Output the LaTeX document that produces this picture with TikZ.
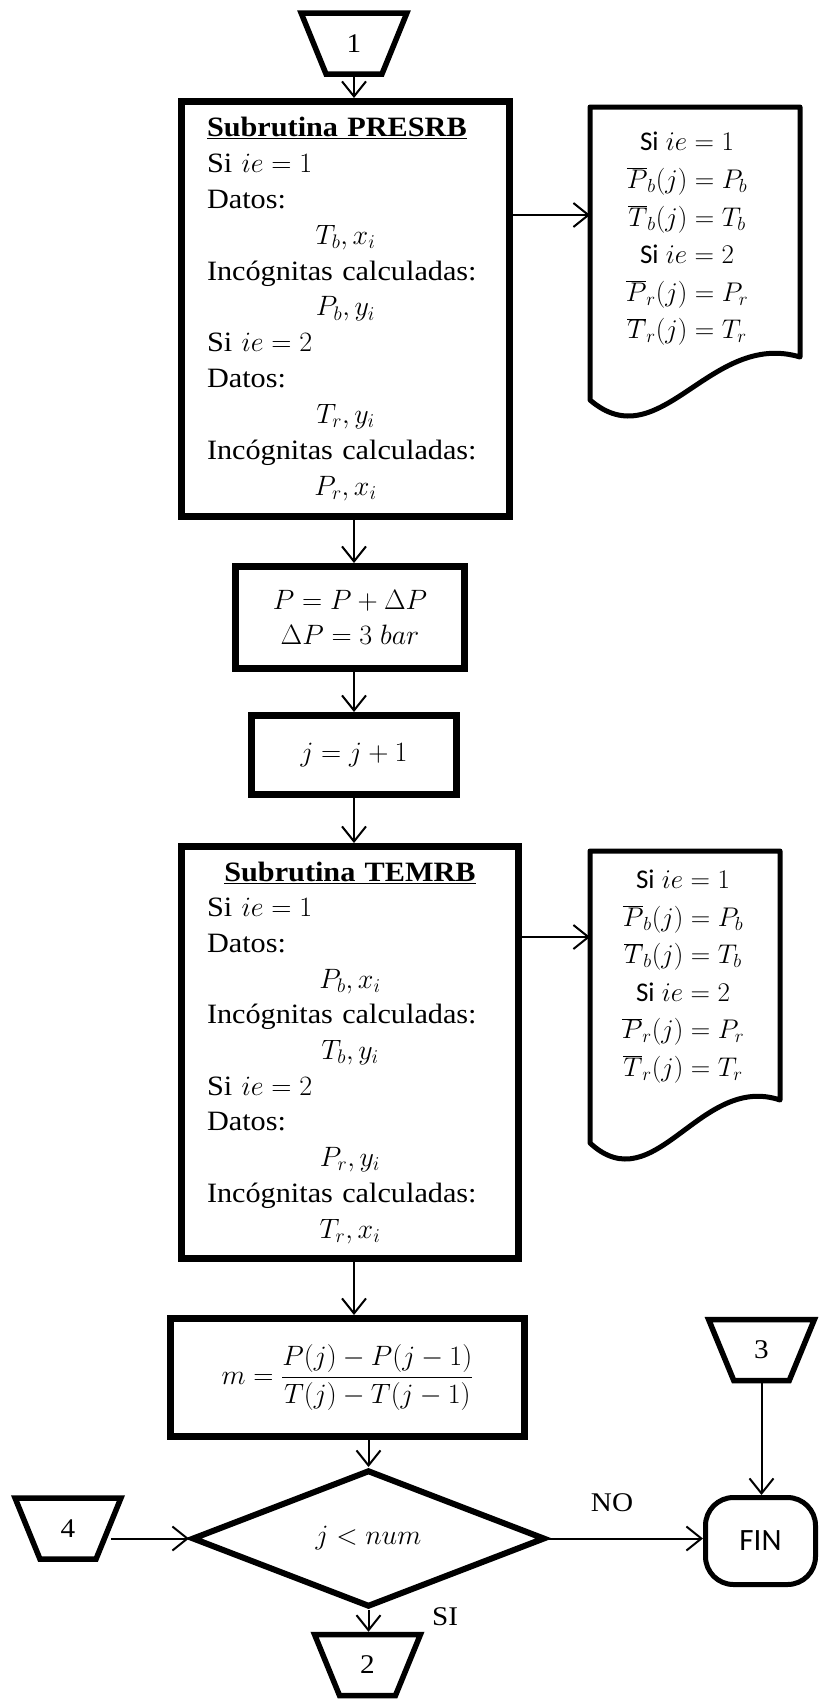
\documentclass[tikz,border=0pt]{standalone}
\usepackage{fix-cm}
\usepackage[no-math]{fontspec}
\setmainfont{Liberation Serif}[FakeStretch=1.08]
\newfontfamily\calibri{Carlito}
\usetikzlibrary{shapes.geometric,arrows.meta}

\newcommand{\centro}[1]{\hfill#1\hfill\null}

\begin{document}
\begin{tikzpicture}[x=1pt, y=-1pt,
    caja/.style={draw, line width=7pt, inner sep=0pt},
    conector/.style={draw, trapezium, trapezium left angle=110, trapezium right angle=110,
      trapezium stretches=true, minimum width=106pt, minimum height=61pt,
      line width=5.5pt, inner sep=0pt, font=\fontsize{27}{27}\selectfont},
    decision/.style={draw, diamond, line width=6pt, minimum width=353pt,
      minimum height=137pt, inner sep=0pt, font=\fontsize{28}{28}\selectfont},
    terminal/.style={draw, rounded corners=28pt, line width=5pt, minimum width=110pt,
      minimum height=87pt, font=\calibri\fontsize{31}{31}\selectfont},
    borde/.style={line width=5pt, line join=round},
    txtdoc/.style={align=center, font=\fontsize{27}{37.6}\selectfont},
    flecha/.style={line width=2pt, -{Straight Barb[length=15pt,width=24pt]}},
    etiqueta/.style={font=\fontsize{27}{27}\selectfont}]
  \useasboundingbox (0,0) rectangle (820,1700);

  \node[conector] (con1) at (354,43.5) {1};

  \node[caja, minimum width=328pt, minimum height=415pt, text width=277pt, align=left,
    font=\fontsize{28}{35.9}\selectfont] (presrb) at (345.5,309) {%
    \textbf{\underline{Subrutina PRESRB}}\\
    Si $ie = 1$\\
    Datos:\\
    \centro{$T_b, x_i$}\\
    Incógnitas calculadas:\\
    \centro{$P_b, y_i$}\\
    Si $ie = 2$\\
    Datos:\\
    \centro{$T_r, y_i$}\\
    Incógnitas calculadas:\\
    \centro{$P_r, x_i$}};

  % hoja de resultados 1
  \coordinate (doc1) at (590,107);
  \draw[borde] (doc1) -- ++(210,0) -- ++(0,250)
    .. controls +(-90,-27) and +(70,60) .. ++(-210,43) -- cycle;
  \node[txtdoc] (doc1t) at (687,239) {{\calibri Si} $ie = 1$\\ $\overline{P}_b(j) = P_b$\\
    $\overline{T}_b(j) = T_b$\\ {\calibri Si} $ie = 2$\\ $\overline{P}_r(j) = P_r$\\
    $\overline{T}_r(j) = T_r$};

  \node[caja, minimum width=229pt, minimum height=102pt, align=center,
    font=\fontsize{28}{35}\selectfont] (incp) at (350,617.5)
    {$P = P + \Delta P$\\ $\Delta P = 3\;bar$};
  \node[caja, minimum width=205pt, minimum height=79pt,
    font=\fontsize{28}{28}\selectfont] (incj) at (354,755) {$j = j + 1$};

  \node[caja, minimum width=337pt, minimum height=412pt, text width=286pt, align=left,
    font=\fontsize{28}{35.7}\selectfont] (temrb) at (350,1052.5) {%
    \centro{\textbf{\underline{Subrutina TEMRB}}}\\
    Si $ie = 1$\\
    Datos:\\
    \centro{$P_b, x_i$}\\
    Incógnitas calculadas:\\
    \centro{$T_b, y_i$}\\
    Si $ie = 2$\\
    Datos:\\
    \centro{$P_r, y_i$}\\
    Incógnitas calculadas:\\
    \centro{$T_r, x_i$}};

  % hoja de resultados 2
  \coordinate (doc2) at (590,851);
  \draw[borde] (doc2) -- ++(190,0) -- ++(0,249)
    .. controls +(-80,-27) and +(65,60) .. ++(-190,43) -- cycle;
  \node[txtdoc] (doc2t) at (683,976.5) {{\calibri Si} $ie = 1$\\ $\overline{P}_b(j) = P_b$\\
    $\overline{T}_b(j) = T_b$\\ {\calibri Si} $ie = 2$\\ $\overline{P}_r(j) = P_r$\\
    $\overline{T}_r(j) = T_r$};

  \node[caja, minimum width=354pt, minimum height=118pt,
    font=\fontsize{28}{28}\selectfont] (pend) at (347.5,1377.5)
    {$\displaystyle m = \frac{P(j) - P(j-1)}{T(j) - T(j-1)}$};

  \node[decision] (dec) at (368.5,1538.5) {$j < num$};
  \node[conector] (con4) at (68,1528.5) {4};
  \node[conector] (con2) at (367.5,1665) {2};
  \node[conector] (con3) at (761.5,1350) {3};
  \node[terminal] (fin) at (760.5,1541) {FIN};

  \node[etiqueta] (no) at (612,1503) {NO};
  \node[etiqueta] (si) at (445,1617) {SI};

  \draw[flecha] (con1.south) -- (con1.south |- presrb.north);
  \draw[flecha] (presrb.south -| con1) -- (incp.north -| con1);
  \draw[flecha] (incp.south -| con1) -- (incj.north -| con1);
  \draw[flecha] (incj.south -| con1) -- (temrb.north -| con1);
  \draw[flecha] (temrb.south -| con1) -- (pend.north -| con1);
  \draw[flecha] (pend.south -| dec) -- (dec.north);
  \draw[flecha] (dec.south) -- (dec.south |- con2.north);
  \draw[flecha] (presrb.east |- 0,215) -- (doc1 |- 0,215);
  \draw[flecha] (temrb.east |- 0,937) -- (doc2 |- 0,937);
  \draw[flecha] (con4.east |- dec) -- (dec.west);
  \draw[flecha] (dec.east) -- (dec.east -| fin.west);
  \draw[flecha] (con3.south) -- (con3.south |- fin.north);
\end{tikzpicture}
\end{document}
